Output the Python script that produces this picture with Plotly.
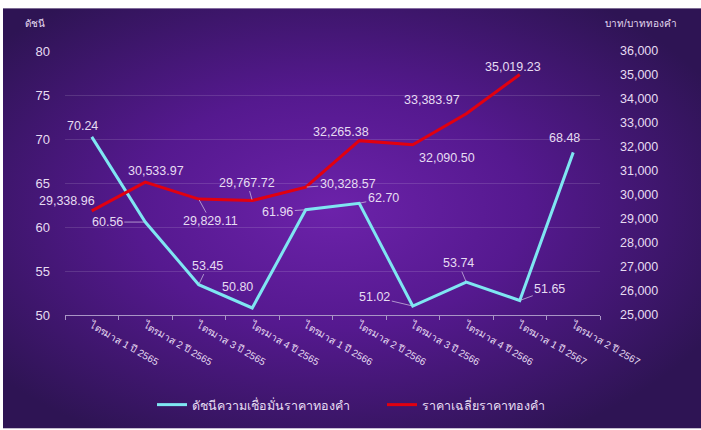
import base64
import plotly.graph_objects as go

# ---------------- data ----------------
quarters = ["ไตรมาส 1 ปี 2565", "ไตรมาส 2 ปี 2565", "ไตรมาส 3 ปี 2565", "ไตรมาส 4 ปี 2565",
            "ไตรมาส 1 ปี 2566", "ไตรมาส 2 ปี 2566", "ไตรมาส 3 ปี 2566", "ไตรมาส 4 ปี 2566",
            "ไตรมาส 1 ปี 2567", "ไตรมาส 2 ปี 2567"]
confidence_index = [70.24, 60.56, 53.45, 50.80, 61.96, 62.70, 51.02, 53.74, 51.65, 68.48]
gold_price = [29338.96, 30533.97, 29829.11, 29767.72, 30328.57, 32265.38, 32090.50,
              33383.97, 35019.23, None]
series_names = ["ดัชนีความเชื่อมั่นราคาทองคำ", "ราคาเฉลี่ยราคาทองคำ"]
left_title = "ดัชนี"
right_title = "บาท/บาททองคำ"

# ---------------- label placement (pixel offsets, leader flag) ----------------
idx_label_pos = [(-9, -11, False), (-38, 0, True), (9, -19, True), (-15, -21, False),
                 (-28, 2, True), (24, -5, True), (-38, -9, True), (-8, -19, True),
                 (30, -11, True), (-9, -14, False)]
gold_label_pos = [(-25, -10, False), (11, -11, False), (12, 22, True), (-5, -18, True),
                  (42, -3, True), (-18, -9, False), (34, 13, False), (-34, -14, False),
                  (-7, -8, False)]

CYAN = "#7fe6f2"
RED = "#e2000f"
TXT = "#e6dcf2"
LEADER = "rgba(205,190,225,0.75)"
FONT = "Liberation Sans, Arial, sans-serif"

W, H = 701, 430
ML, MR, MT, MB = 65, 101, 51, 114
PW, PH = W - ML - MR, H - MT - MB

fig = go.Figure()
fig.add_trace(go.Scatter(x=quarters, y=confidence_index, name=series_names[0], mode="lines",
                         line=dict(color=CYAN, width=3), yaxis="y"))
fig.add_trace(go.Scatter(x=quarters, y=gold_price, name=series_names[1], mode="lines",
                         line=dict(color=RED, width=3), yaxis="y2"))

annotations = []
for q, v, (dx, dy, lead) in zip(quarters, confidence_index, idx_label_pos):
    base = dict(x=q, y=v, xref="x", yref="y", text=f"{v:.2f}",
                font=dict(family=FONT, size=12.5, color=TXT))
    if lead:
        base.update(showarrow=True, ax=dx, ay=dy, arrowhead=0, arrowwidth=1,
                    arrowcolor=LEADER, standoff=1)
    else:
        base.update(showarrow=False, xshift=dx, yshift=-dy)
    annotations.append(base)
for q, v, (dx, dy, lead) in zip(quarters, gold_price, gold_label_pos):
    if v is None:
        continue
    base = dict(x=q, y=v, xref="x", yref="y2", text=f"{v:,.2f}",
                font=dict(family=FONT, size=12.5, color=TXT))
    if lead:
        base.update(showarrow=True, ax=dx, ay=dy, arrowhead=0, arrowwidth=1,
                    arrowcolor=LEADER, standoff=1)
    else:
        base.update(showarrow=False, xshift=dx, yshift=-dy)
    annotations.append(base)

annotations.append(dict(text=left_title, xref="paper", yref="paper",
                        x=(35 - ML) / PW, y=1 + (MT - 23) / PH, showarrow=False,
                        xanchor="center", yanchor="middle",
                        font=dict(family=FONT, size=10, color=TXT)))
annotations.append(dict(text=right_title, xref="paper", yref="paper",
                        x=(641 - ML) / PW, y=1 + (MT - 23) / PH, showarrow=False,
                        xanchor="center", yanchor="middle",
                        font=dict(family=FONT, size=10, color=TXT)))

svg = f"""<svg xmlns='http://www.w3.org/2000/svg' width='698' height='422' viewBox='0 0 698 422' preserveAspectRatio='none'>
<defs><radialGradient id='g' cx='0.47' cy='0.48' r='0.62'>
<stop offset='0' stop-color='#6c22aa'/>
<stop offset='0.45' stop-color='#55198f'/>
<stop offset='1' stop-color='#2e1454'/>
</radialGradient></defs>
<rect width='698' height='422' fill='url(#g)'/></svg>"""
src = "data:image/svg+xml;base64," + base64.b64encode(svg.encode()).decode()

fig.update_layout(
    width=W, height=H,
    margin=dict(l=ML, r=MR, t=MT, b=MB),
    paper_bgcolor="white",
    plot_bgcolor="rgba(0,0,0,0)",
    showlegend=True,
    legend=dict(orientation="h", x=(152 - ML) / PW, xanchor="left",
                y=-(405 - (H - MB)) / PH, yanchor="middle",
                font=dict(family=FONT, size=12.5, color=TXT),
                bgcolor="rgba(0,0,0,0)", itemwidth=30, entrywidth=185,
                traceorder="normal"),
    images=[dict(source=src, xref="paper", yref="paper",
                 x=(3 - ML) / PW, y=1 + (MT - 8) / PH,
                 sizex=(W - 3) / PW, sizey=(H - 8) / PH,
                 xanchor="left", yanchor="top", sizing="stretch", layer="below")],
    xaxis=dict(type="category", range=[-0.5, len(quarters) - 0.5], autorange=False,
               tickson="boundaries", ticks="outside", ticklen=4,
               tickcolor="#a995c6", showline=True, linecolor="#a995c6", linewidth=1,
               showgrid=False, tickangle=30,
               tickfont=dict(family=FONT, size=10, color=TXT)),
    yaxis=dict(range=[50, 80], autorange=False, dtick=5, showgrid=True,
               gridcolor="rgba(255,255,255,0.13)",
               gridwidth=1, zeroline=False, showline=False, ticks="",
               ticklabelstandoff=14,
               tickfont=dict(family=FONT, size=13, color=TXT)),
    yaxis2=dict(range=[25000, 36000], autorange=False, dtick=1000, overlaying="y",
                side="right", showgrid=False, zeroline=False, showline=False, ticks="",
                tickformat=",d", ticklabelstandoff=19,
                tickfont=dict(family=FONT, size=12.5, color=TXT)),
    annotations=annotations,
)

fig.write_html("out.html", config={"displayModeBar": False},
               post_script="document.body.style.margin='0';document.body.style.padding='0';")
